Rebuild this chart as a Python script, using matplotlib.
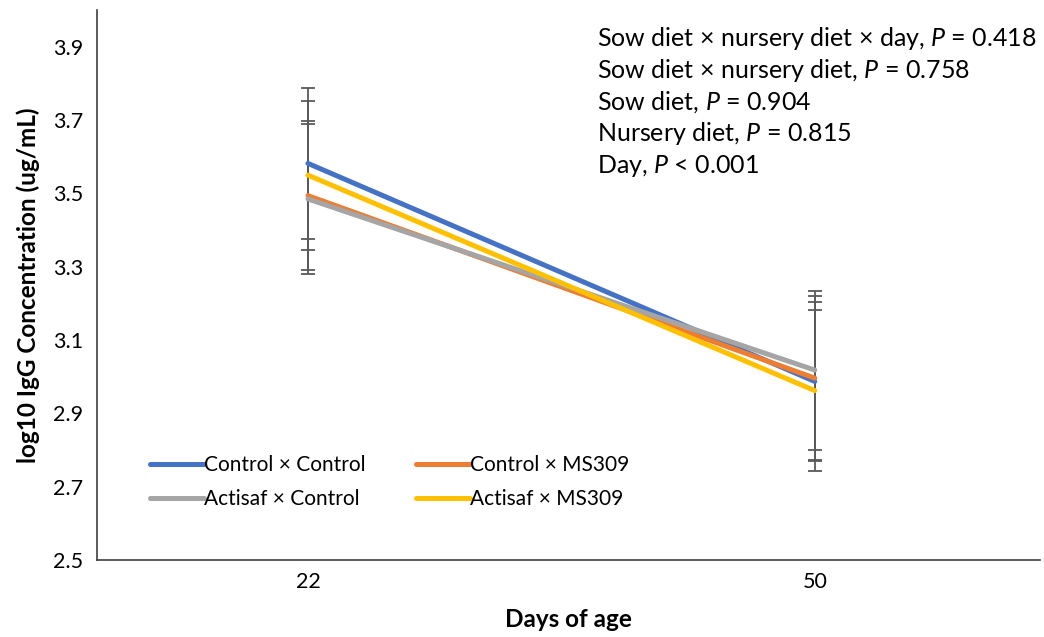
"""IgG concentration by sow diet x nursery diet over days of age."""

import matplotlib

matplotlib.use("Agg")
import matplotlib.pyplot as plt

plt.rcParams["font.family"] = ["Lato", "DejaVu Sans"]
plt.rcParams["mathtext.fontset"] = "custom"
plt.rcParams["mathtext.rm"] = "Lato"
plt.rcParams["mathtext.it"] = "Lato:italic"

# Datos: medias y EE por tratamiento
DAYS = ["22", "50"]
GROUPS = ["Control × Control", "Control × MS309", "Actisaf × Control", "Actisaf × MS309"]
COLORS = ["#4472C4", "#ED7D31", "#A5A5A5", "#FFC000"]
MEANS = {
    "Control × Control": [3.582, 2.987],
    "Control × MS309": [3.494, 2.996],
    "Actisaf × Control": [3.485, 3.018],
    "Actisaf × MS309": [3.550, 2.962],
}
SEM = {
    "Control × Control": [0.205, 0.217],
    "Control × MS309": [0.204, 0.224],
    "Actisaf × Control": [0.204, 0.217],
    "Actisaf × MS309": [0.203, 0.219],
}
STATS = [
    "Sow diet × nursery diet × day, $P$ = 0.418",
    "Sow diet × nursery diet, $P$ = 0.758",
    "Sow diet, $P$ = 0.904",
    "Nursery diet, $P$ = 0.815",
    "Day, $P$ < 0.001",
]
Y_TICKS = [2.5, 2.7, 2.9, 3.1, 3.3, 3.5, 3.7, 3.9]


def main() -> None:
    fig = plt.figure(figsize=(10.44, 6.37), dpi=100)
    ax = fig.add_axes([0.093, 0.121, 0.903, 0.863])

    x = list(range(len(DAYS)))
    handles = {}
    for name, color in zip(GROUPS, COLORS):
        (handles[name],) = ax.plot(x, MEANS[name], color=color, lw=3.6, label=name,
                                   solid_capstyle="round", zorder=3)
        ax.errorbar(x, MEANS[name], yerr=SEM[name], fmt="none",
                    ecolor="#595959", elinewidth=1.3, capsize=5, capthick=1.3,
                    zorder=2)

    ax.set_xlim(-0.416, 1.444)
    ax.set_ylim(2.5, 4.0)
    ax.set_xticks(x)
    ax.set_xticklabels(DAYS, fontsize=15.5)
    ax.set_yticks(Y_TICKS)
    ax.set_yticklabels([f"{t:.1f}" for t in Y_TICKS], fontsize=15.5)
    ax.tick_params(axis="both", length=0)
    ax.tick_params(axis="y", pad=10)
    ax.tick_params(axis="x", pad=9)

    for side in ("top", "right"):
        ax.spines[side].set_visible(False)
    for side in ("left", "bottom"):
        ax.spines[side].set_color("#404040")
        ax.spines[side].set_linewidth(1.2)

    ax.set_xlabel("Days of age", fontsize=17.5, fontweight="bold", labelpad=11)
    ax.set_ylabel("log10 IgG Concentration (ug/mL)", fontsize=17.5,
                  fontweight="bold", labelpad=9)

    # leyenda por filas: el orden de handles compensa el llenado por columnas
    order = [GROUPS[0], GROUPS[2], GROUPS[1], GROUPS[3]]
    ax.legend([handles[n] for n in order], order, loc="upper left",
              bbox_to_anchor=(0.056, 0.19), ncol=2, frameon=False,
              fontsize=15, handlelength=2.6, handletextpad=0.0,
              columnspacing=2.4, labelspacing=0.65, borderpad=0,
              borderaxespad=0)

    for i, line in enumerate(STATS):
        fig.text(0.572, 0.94 - i * 0.0500, line, fontsize=18, va="center",
                 ha="left")

    fig.savefig("out.png", dpi=100)
    plt.close(fig)


if __name__ == "__main__":
    main()
